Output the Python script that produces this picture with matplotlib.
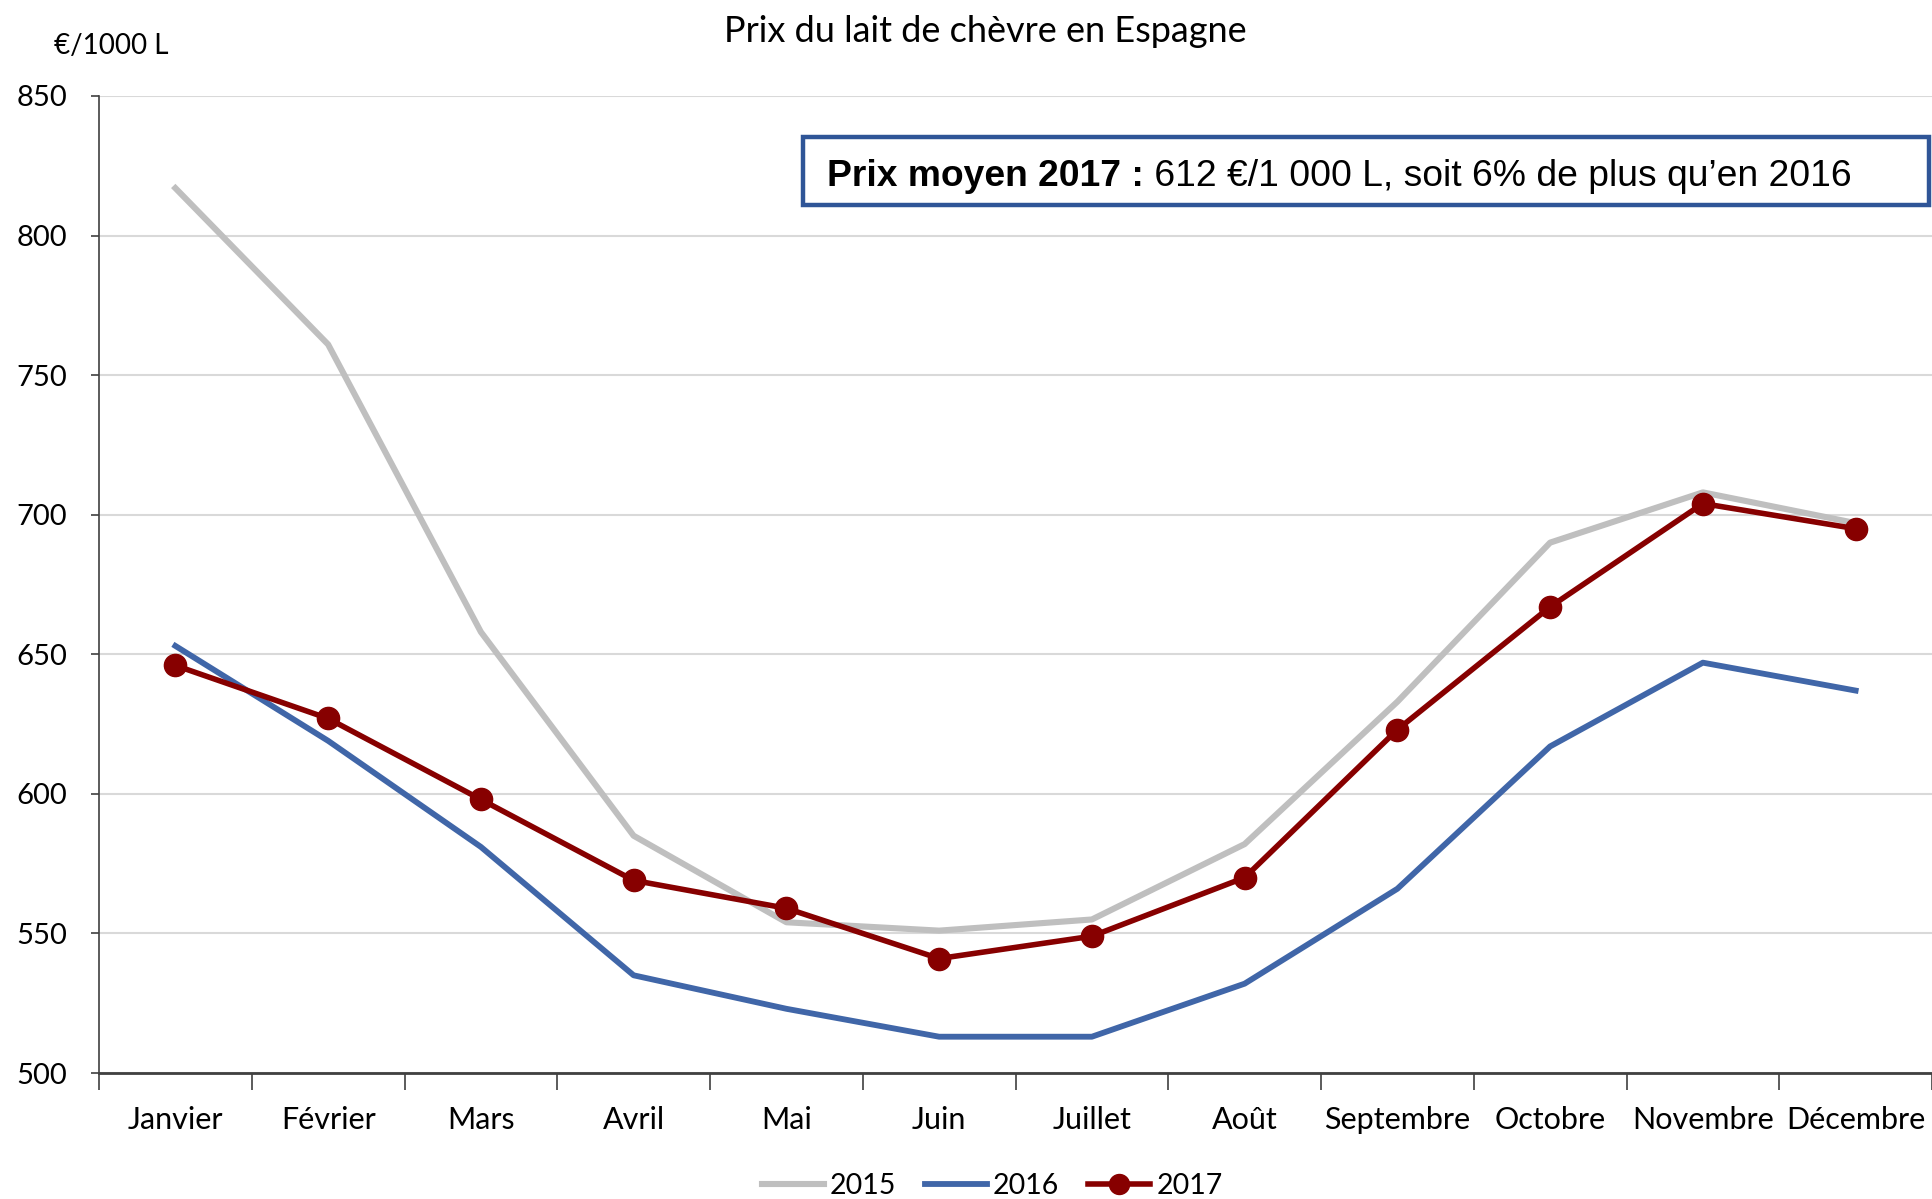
import matplotlib
matplotlib.use("Agg")
import matplotlib.pyplot as plt
from matplotlib.patches import Rectangle
import numpy as np

months = ["Janvier", "Février", "Mars", "Avril", "Mai", "Juin", "Juillet",
          "Août", "Septembre", "Octobre", "Novembre", "Décembre"]
prix_2015 = [817, 761, 658, 585, 554, 551, 555, 582, 633, 690, 708, 697]
prix_2016 = [653, 619, 581, 535, 523, 513, 513, 532, 566, 617, 647, 637]
prix_2017 = [646, 627, 598, 569, 559, 541, 549, 570, 623, 667, 704, 695]
y_ticks = [500, 550, 600, 650, 700, 750, 800, 850]

FONT = ["Lato", "DejaVu Sans"]
plt.rcParams['font.family'] = FONT

W, H = 1932, 1199
fig = plt.figure(figsize=(W / 100, H / 100), dpi=100)
ax = fig.add_axes([99 / W, 1 - 1073 / H, (W - 99) / W, (1073 - 96) / H])

x = np.arange(len(months))
ax.plot(x, prix_2015, color="#bfbfbf", lw=4.4, label="2015", solid_joinstyle="round")
ax.plot(x, prix_2016, color="#4066a8", lw=4.2, label="2016", solid_joinstyle="round")
ax.plot(x, prix_2017, color="#870000", lw=4.0, marker="o", markersize=16,
        label="2017", solid_joinstyle="round")

ax.set_xlim(-0.5, len(months) - 0.5)
ax.set_ylim(500, 850)
ax.set_yticks(y_ticks)
ax.set_yticklabels([str(v) for v in y_ticks], fontsize=21)
ax.set_xticks(x)
ax.set_xticklabels(months, fontsize=22)
ax.set_xticks(np.arange(-0.5, len(months) + 0.5, 1), minor=True)
ax.tick_params(axis="x", which="major", length=0, pad=24)
ax.tick_params(axis="x", which="minor", length=12, width=1.2, color="#404040", direction="out")
ax.tick_params(axis="y", length=6, width=1.2, color="#404040", pad=17)

ax.grid(axis="y", color="#d9d9d9", lw=1.5)
ax.set_axisbelow(True)
for s in ["top", "right"]:
    ax.spines[s].set_visible(False)
ax.spines["left"].set_color("#404040")
ax.spines["left"].set_linewidth(1.2)
ax.spines["bottom"].set_color("#404040")
ax.spines["bottom"].set_linewidth(2.0)

fig.text(985 / W, 1 - 31 / H, "Prix du lait de chèvre en Espagne", ha="center", va="center",
         fontsize=26)
fig.text(54 / W, 1 - 46 / H, "€/1000 L", ha="left", va="center", fontsize=20)

# annotation box
box = Rectangle((803 / W, 1 - 205 / H), (1929 - 803) / W, (205 - 137) / H,
                transform=fig.transFigure, fill=False, edgecolor="#2f5597", lw=3.2,
                clip_on=False)
fig.add_artist(box)
t1 = fig.text(827 / W, 1 - 176 / H, "Prix moyen 2017 :", ha="left", va="center",
              fontsize=26.8, fontweight="bold", family=["Liberation Sans", "DejaVu Sans"])
fig.add_artist(matplotlib.text.Annotation(
    " 612 €/1 000 L, soit 6% de plus qu’en 2016", xy=(1, 0.5), xycoords=t1,
    va="center", ha="left", fontsize=26.8, family=["Liberation Sans", "DejaVu Sans"]))

leg = fig.legend(loc="center", bbox_to_anchor=(992 / W, 1 - 1186 / H), ncol=3, frameon=False,
                 fontsize=20.5, handlelength=2.2, handletextpad=0.2, columnspacing=1.0,
                 markerscale=0.9)

fig.savefig("out.png", dpi=100)
